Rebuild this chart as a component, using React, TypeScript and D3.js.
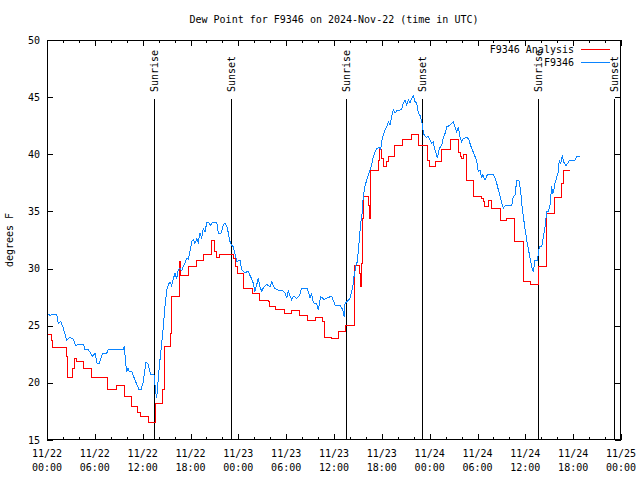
import React from "react";
import * as d3 from "d3";

const TITLE = "Dew Point for F9346 on 2024-Nov-22 (time in UTC)";
const Y_LABEL = "degrees F";
const SERIES_NAMES = ["F9346 Analysis", "F9346"];
const SERIES_COLORS = ["#ff0000", "#0a84ff"];
const Y_TICKS = [15, 20, 25, 30, 35, 40, 45, 50];

// hours after 2024-11-22 00:00 UTC
const sunriseHours = [13.45, 37.5, 61.65];
const sunsetHours = [23.03, 47.08, 71.12];

// observed dew point (hour, °F)
const obsSeries: [number, number][] = [
  [0,26.1],[0.38,25.9],[0.63,26.0],[1.22,26.0],[1.42,25.2],[1.72,25.4],[2.04,24.8],[2.47,23.75],[2.89,24.0],[3.3,23.8],[3.64,23.2],[3.93,23.4],[4.55,23.4],[4.77,22.9],[5.18,22.9],[5.39,22.7],[5.73,22.3],[6.02,22.6],[6.31,21.65],[6.56,21.7],[6.99,22.6],[7.49,22.6],[7.69,22.9],[9.57,22.9],[9.7,23.2],[9.87,21.7],[10.0,20.98],[10.16,21.3],[10.32,21.0],[10.62,21.0],[11.04,20.25],[11.54,19.4],[11.79,19.4],[12.08,20.1],[12.42,21.85],[12.71,21.6],[13.0,20.7],[13.42,20.7],[13.64,19.2],[13.76,18.65],[13.96,20.4],[14.17,22.0],[14.39,23.5],[14.59,24.9],[14.8,26.7],[15.02,28.1],[15.22,28.6],[15.43,28.85],[15.64,28.5],[15.84,29.1],[16.06,29.6],[16.27,29.1],[16.47,29.9],[16.68,30.0],[16.9,29.8],[17.1,30.2],[17.31,30.45],[17.52,30.9],[17.72,30.8],[17.94,31.5],[18.15,32.35],[18.35,32.55],[18.56,32.2],[18.78,32.6],[18.98,32.3],[19.19,33.1],[19.41,32.7],[19.61,33.5],[19.82,33.2],[20.03,34.0],[20.23,34.05],[20.53,33.8],[20.73,34.05],[21.29,34.05],[21.49,33.1],[21.83,33.1],[22.11,33.8],[22.33,34.0],[22.62,33.6],[22.74,33.1],[22.96,32.35],[23.17,32.05],[23.37,31.9],[23.58,31.3],[23.8,30.6],[24.0,30.7],[24.21,30.75],[24.42,29.9],[24.84,29.6],[25.21,29.8],[25.46,29.4],[25.68,29.1],[25.88,28.7],[26.09,28.0],[26.31,28.6],[26.51,29.15],[26.72,28.4],[26.93,28.0],[27.13,28.3],[27.56,28.6],[27.97,28.4],[28.19,28.85],[28.39,28.5],[28.6,28.25],[29.01,28.1],[29.44,28.1],[29.85,27.9],[30.07,27.4],[30.27,28.1],[30.48,27.6],[30.7,27.25],[30.9,27.6],[31.32,27.4],[31.65,27.6],[31.95,28.3],[32.58,28.3],[32.78,28.0],[32.99,27.4],[33.2,27.8],[33.4,27.0],[33.83,26.9],[34.03,26.4],[34.33,27.55],[34.75,27.3],[35.09,27.4],[35.71,27.6],[36.13,26.8],[36.75,26.8],[37.09,26.4],[37.26,25.8],[37.38,26.9],[37.59,27.1],[38.01,27.4],[38.35,28.4],[38.51,29.3],[38.76,30.3],[38.92,30.6],[39.17,32.5],[39.35,33.95],[39.55,35.0],[39.68,36.4],[39.89,37.2],[40.1,37.75],[40.3,38.2],[40.52,38.6],[40.73,39.06],[40.93,39.8],[41.14,40.2],[41.36,40.5],[41.68,40.6],[41.86,40.4],[41.98,41.1],[42.19,41.7],[42.4,42.1],[42.61,42.4],[42.81,42.85],[43.03,42.6],[43.24,43.3],[43.44,43.9],[43.65,43.6],[43.87,43.8],[44.49,43.9],[44.69,44.46],[44.91,44.75],[45.12,44.3],[45.32,44.75],[45.53,44.5],[45.75,44.9],[45.95,45.1],[46.16,44.6],[46.38,44.46],[46.58,43.6],[46.79,43.4],[47.0,42.85],[47.13,42.4],[47.2,41.8],[47.54,41.5],[47.83,41.55],[48.04,41.25],[48.26,40.95],[48.46,41.1],[48.55,40.7],[48.8,40.1],[48.96,39.65],[49.21,40.5],[49.51,40.8],[49.71,41.5],[49.92,41.8],[50.14,42.4],[50.43,42.5],[50.77,42.7],[50.97,42.85],[51.18,42.4],[51.39,41.95],[51.59,42.4],[51.81,41.5],[52.02,41.1],[52.22,41.4],[52.65,41.45],[52.85,41.4],[53.06,40.95],[53.27,40.5],[53.47,40.2],[53.69,39.8],[53.9,39.4],[54.1,38.5],[54.31,38.6],[54.52,37.9],[54.65,38.2],[54.94,37.75],[55.23,38.2],[55.98,38.2],[56.2,37.9],[56.41,37.46],[56.61,36.9],[56.82,36.4],[57.04,35.7],[57.24,35.3],[57.45,35.5],[58.29,35.5],[58.49,36.3],[58.7,36.4],[58.92,37.7],[59.2,37.7],[59.42,36.76],[59.54,35.7],[59.75,34.54],[59.96,33.5],[60.17,32.5],[60.37,31.77],[60.59,30.9],[60.8,30.15],[61.0,29.7],[61.21,30.75],[61.5,30.75],[61.63,31.2],[61.75,31.9],[62.05,31.9],[62.26,32.8],[62.47,33.66],[62.68,35.0],[62.88,35.0],[63.1,35.56],[63.31,37.2],[63.43,36.5],[63.6,37.0],[63.72,37.46],[63.94,38.0],[64.14,38.5],[64.26,39.5],[64.44,39.2],[64.64,39.95],[64.76,39.4],[65.1,39.0],[65.39,39.3],[65.6,39.5],[66.23,39.5],[66.44,39.8],[66.86,39.85]
];

// analysis dew point, stepwise (hour, °F)
const analysisSeries: [number, number][] = [
  [0,24.25],[0.6,23.75],[0.7,23.1],[2.45,22.3],[2.6,20.5],[3.2,21.3],[3.42,22.15],[3.64,21.85],[4.64,21.26],[5.6,20.5],[7.61,19.4],[8.74,19.75],[9.66,18.85],[10.62,17.9],[11.3,17.4],[11.79,17.1],[12.71,16.5],[13.55,17.04],[13.67,18.2],[14.51,19.4],[14.71,23.2],[15.52,24.35],[15.64,27.55],[16.59,29.0],[16.68,30.6],[16.8,29.4],[17.72,30.15],[18.69,30.75],[19.69,31.2],[20.66,32.5],[21.07,31.5],[21.29,31.0],[21.7,31.2],[23.45,30.9],[23.65,30.15],[23.85,29.6],[24.62,29.0],[24.71,28.3],[25.75,27.8],[26.63,27.25],[27.76,27.1],[27.88,26.7],[28.72,26.45],[29.77,26.1],[30.61,26.3],[31.65,25.9],[32.7,25.5],[33.74,25.7],[34.6,25.35],[34.78,23.98],[35.71,23.9],[36.54,24.5],[37.5,25.0],[38.55,27.55],[38.63,30.3],[39.17,29.6],[39.35,29.0],[39.38,28.4],[39.47,30.45],[39.55,34.4],[39.68,36.35],[40.3,35.56],[40.43,34.4],[40.52,37.46],[40.6,38.6],[41.56,39.5],[41.68,40.4],[41.98,39.65],[42.19,38.9],[42.61,39.4],[42.81,39.85],[43.65,40.8],[44.62,41.3],[45.66,41.77],[46.58,40.8],[47.7,39.5],[47.95,38.9],[48.67,39.4],[49.51,40.4],[50.64,41.3],[51.59,40.2],[51.81,39.85],[52.02,39.65],[52.22,39.95],[52.65,37.75],[53.47,36.35],[54.52,36.15],[54.73,35.85],[54.94,35.4],[55.36,36.0],[55.78,35.26],[56.85,34.2],[57.66,34.4],[58.7,32.4],[59.75,28.85],[60.71,28.6],[61.63,30.15],[62.68,34.8],[63.63,36.2],[64.56,37.46],[64.85,38.6],[65.6,38.6]
];

const T0 = Date.UTC(2024, 10, 22, 0, 0);
const toDate = (h: number) => new Date(T0 + h * 3600e3);

const W = 640, H = 480;
const M = { left: 47, right: 621, top: 40, bottom: 440 };
const FONT = "'DejaVu Sans Mono', 'Liberation Mono', monospace";

export default function App() {
  const x = d3.scaleUtc().domain([toDate(0), toDate(72)]).range([M.left, M.right]);
  const y = d3.scaleLinear().domain([15, 50]).range([M.bottom, M.top]);

  const majorX = x.ticks(d3.utcHour.every(6)!);
  const minorX = x.ticks(d3.utcHour.every(2)!);
  const fmtDate = d3.utcFormat("%m/%d");
  const fmtTime = d3.utcFormat("%H:%M");

  const lineObs = d3.line<[number, number]>()
    .x(d => x(toDate(d[0])))
    .y(d => y(d[1]));
  const lineAna = d3.line<[number, number]>()
    .x(d => x(toDate(d[0])))
    .y(d => y(d[1]))
    .curve(d3.curveStepAfter);

  const sunTop = M.bottom - 0.852 * (M.bottom - M.top);
  const sunEvents = [
    ...sunriseHours.map(h => ({ h, label: "Sunrise" })),
    ...sunsetHours.map(h => ({ h, label: "Sunset" })),
  ];

  const px = (v: number) => Math.round(v) + 0.5;

  return (
    <svg width={W} height={H} style={{ position: "fixed", left: 0, top: 0, background: "#fff" }}
      fontFamily={FONT} fontSize={10}>
      <rect x={0} y={0} width={W} height={H} fill="#fff" />
      {/* minor x ticks */}
      {minorX.map((d, i) => (
        <g key={"mx" + i} stroke="#000" shapeRendering="crispEdges">
          <line x1={px(x(d))} x2={px(x(d))} y1={M.bottom} y2={M.bottom - 3} />
          <line x1={px(x(d))} x2={px(x(d))} y1={M.top} y2={M.top + 3} />
        </g>
      ))}
      {majorX.map((d, i) => (
        <g key={"X" + i}>
          <line x1={px(x(d))} x2={px(x(d))} y1={M.bottom} y2={M.bottom - 6} stroke="#000" shapeRendering="crispEdges" />
          <line x1={px(x(d))} x2={px(x(d))} y1={M.top} y2={M.top + 6} stroke="#000" shapeRendering="crispEdges" />
          <text x={x(d)} y={456.5} textAnchor="middle">{fmtDate(d)}</text>
          <text x={x(d)} y={470.5} textAnchor="middle">{fmtTime(d)}</text>
        </g>
      ))}
      {Y_TICKS.map(v => (
        <g key={"y" + v}>
          <line x1={M.left} x2={M.left + 6} y1={px(y(v))} y2={px(y(v))} stroke="#000" shapeRendering="crispEdges" />
          <line x1={M.right} x2={M.right - 6} y1={px(y(v))} y2={px(y(v))} stroke="#000" shapeRendering="crispEdges" />
          <text x={40} y={y(v) + 3.5} textAnchor="end">{v}</text>
        </g>
      ))}
      {/* sunrise / sunset markers */}
      {sunEvents.map((e, i) => {
        const sx = x(toDate(e.h));
        return (
          <g key={"s" + i}>
            <line x1={px(sx)} x2={px(sx)} y1={M.bottom} y2={sunTop} stroke="#000" shapeRendering="crispEdges" />
            <text transform={`translate(${sx + 4},92) rotate(-90)`} textAnchor="start">{e.label}</text>
          </g>
        );
      })}
      {/* data */}
      <path d={lineAna(analysisSeries) || ""} fill="none" stroke={SERIES_COLORS[0]} strokeWidth={1} shapeRendering="crispEdges" />
      <path d={lineObs(obsSeries) || ""} fill="none" stroke={SERIES_COLORS[1]} strokeWidth={1} shapeRendering="crispEdges" />
      {/* border */}
      <rect x={M.left + 0.5} y={M.top + 0.5} width={M.right - M.left - 1} height={M.bottom - M.top - 1}
        fill="none" stroke="#000" shapeRendering="crispEdges" />
      {/* legend */}
      {SERIES_NAMES.map((n, i) => (
        <g key={"l" + i}>
          <text x={574} y={53 + i * 13} textAnchor="end">{n}</text>
          <line x1={581} x2={610} y1={px(49 + i * 13)} y2={px(49 + i * 13)} stroke={SERIES_COLORS[i]} shapeRendering="crispEdges" />
        </g>
      ))}
      <text x={334} y={23} textAnchor="middle">{TITLE}</text>
      <text transform={`translate(13,240) rotate(-90)`} textAnchor="middle">{Y_LABEL}</text>
    </svg>
  );
}
